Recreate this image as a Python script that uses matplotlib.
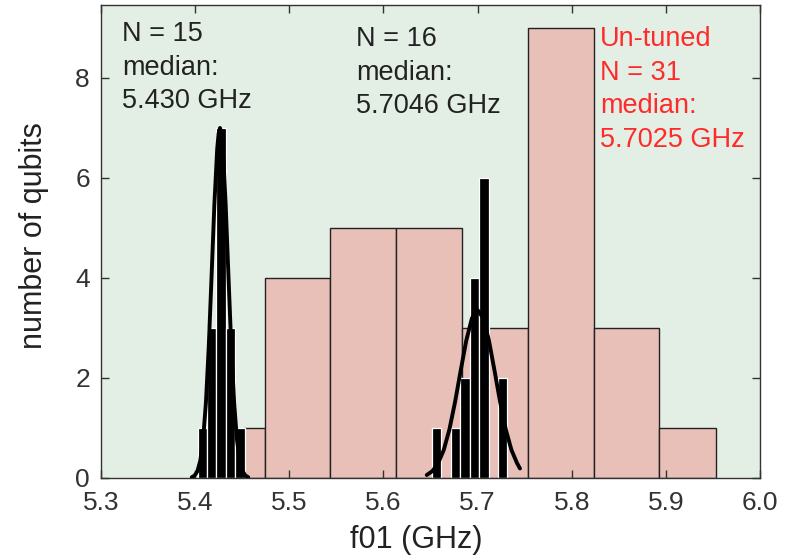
import numpy as np
import matplotlib
matplotlib.use("Agg")
import matplotlib.pyplot as plt

plt.rcParams["font.family"] = ["Liberation Sans", "DejaVu Sans"]

# Histograma sin sintonizar (N = 31): bordes de bins y conteos
untuned_edges = [5.452, 5.4738, 5.5432, 5.6134, 5.6835, 5.7536, 5.8233, 5.8932, 5.9533]
untuned_counts = [1, 4, 5, 5, 3, 9, 3, 1]

# Grupo sintonizado a 5.430 GHz (N = 15)
tuned1_centers = [5.4076, 5.4176, 5.4276, 5.4376, 5.4476]
tuned1_counts = [1, 3, 7, 3, 1]

# Grupo sintonizado a 5.7046 GHz (N = 16)
tuned2_centers = [5.6566, 5.6666, 5.6766, 5.6866, 5.6966, 5.7066, 5.7166, 5.7266]
tuned2_counts = [1, 0, 1, 2, 4, 6, 0, 2]

# Curvas de ajuste
fit1_x = [5.3964, 5.3994, 5.4024, 5.4054, 5.4084, 5.4114, 5.4144, 5.4174, 5.4204,
          5.4234, 5.4249, 5.4264, 5.4279, 5.4294, 5.4324, 5.4354, 5.4384, 5.4414,
          5.4444, 5.4474, 5.4504, 5.4534, 5.4564]
fit1_y = [0.015, 0.048, 0.136, 0.343, 0.763, 1.50, 2.61, 4.02, 5.47,
          6.58, 6.89, 7.00, 6.89, 6.58, 5.47, 4.02, 2.61, 1.50,
          0.763, 0.343, 0.136, 0.048, 0.015]

fit2_x = [5.646, 5.652, 5.658, 5.664, 5.670, 5.676, 5.682, 5.688, 5.694, 5.700,
          5.706, 5.712, 5.718, 5.724, 5.730, 5.736, 5.742, 5.745]
fit2_y = [0.059, 0.138, 0.292, 0.558, 0.966, 1.513, 2.145, 2.752, 3.196, 3.36,
          3.196, 2.752, 2.145, 1.513, 0.966, 0.558, 0.292, 0.19]

xticks = [5.3, 5.4, 5.5, 5.6, 5.7, 5.8, 5.9, 6.0]
yticks = [0, 2, 4, 6, 8]

fig = plt.figure(figsize=(7.88, 5.58), dpi=100)
ax = fig.add_axes([0.1282, 0.1434, 0.8363, 0.8477])
ax.set_facecolor("#E3EEE4")

# Barras rosas (sin sintonizar)
lefts = np.array(untuned_edges[:-1])
widths = np.diff(untuned_edges)
ax.bar(lefts, untuned_counts, width=widths, align="edge",
       color="#E8C0B8", edgecolor="#222222", linewidth=1.0, zorder=1)

# Barras negras (sintonizadas)
ax.bar(tuned1_centers, tuned1_counts, width=0.01, color="black",
       edgecolor="white", linewidth=0.9, zorder=2)
ax.bar(tuned2_centers, tuned2_counts, width=0.01, color="black",
       edgecolor="white", linewidth=0.9, zorder=2)

# Ajustes gaussianos
ax.plot(fit1_x, fit1_y, color="black", linewidth=2.8, zorder=3,
        solid_capstyle="round")
ax.plot(fit2_x, fit2_y, color="black", linewidth=2.8, zorder=3,
        solid_capstyle="round")

ax.set_xlim(5.3, 6.0)
ax.set_ylim(0, 9.46)
ax.set_xticks(xticks)
ax.set_xticklabels([f"{t:.1f}" for t in xticks])
ax.set_yticks(yticks)
ax.tick_params(direction="in", length=5.5, width=1, colors="#333333",
               labelsize=19, top=True, right=True, pad=8)
ax.tick_params(axis="x", pad=9.5)
for s in ax.spines.values():
    s.set_color("#333333")
    s.set_linewidth(1.0)

ax.set_xlabel("f01 (GHz)", fontsize=22, color="#222222")
ax.set_ylabel("number of qubits", fontsize=22, color="#222222")
ax.xaxis.set_label_coords(0.478, -0.100)
ax.yaxis.set_label_coords(-0.079, 0.513)

# Anotaciones
ax.text(5.322, 9.14, "N = 15\nmedian:\n5.430 GHz", fontsize=19.5,
        color="#222222", va="top", ha="left", linespacing=1.38)
ax.text(5.571, 9.04, "N = 16\nmedian:\n5.7046 GHz", fontsize=19.5,
        color="#222222", va="top", ha="left", linespacing=1.38)
ax.text(5.830, 9.04, "Un-tuned\nN = 31\nmedian:\n5.7025 GHz", fontsize=19.5,
        color="#FF2A2A", va="top", ha="left", linespacing=1.38)

fig.savefig("out.png", dpi=100)
